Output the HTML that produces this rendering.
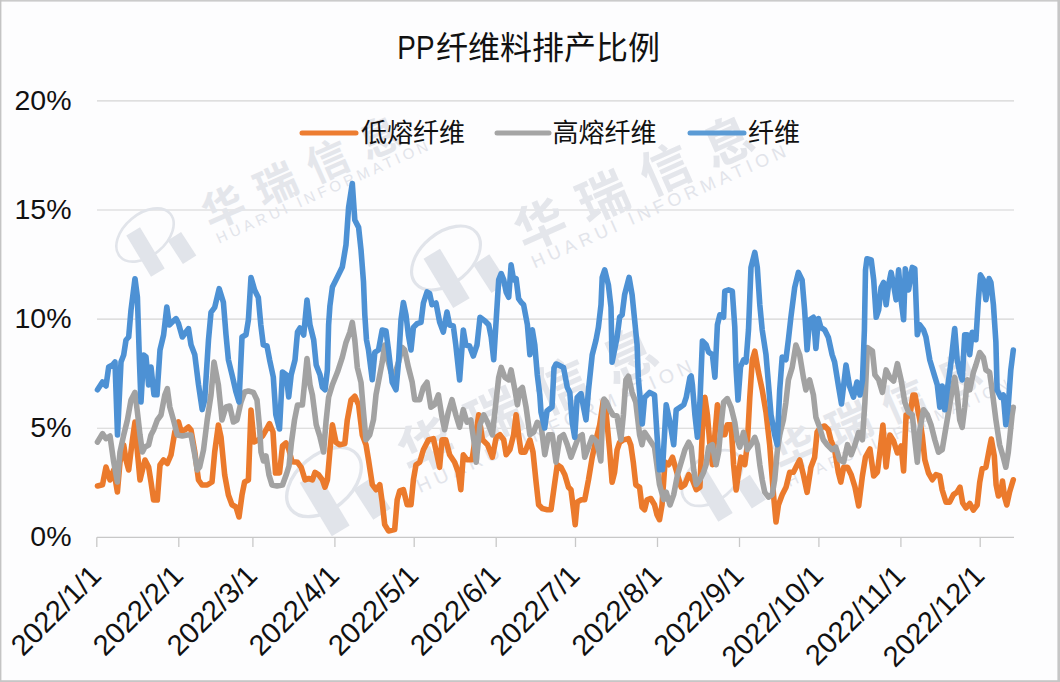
<!DOCTYPE html>
<html><head><meta charset="utf-8"><title>PP纤维料排产比例</title>
<style>
html,body{margin:0;padding:0;background:#fff;width:1060px;height:682px;overflow:hidden}
svg{display:block}
text{font-family:"Liberation Sans","Noto Sans CJK SC",sans-serif;fill:#111}
.ax{font-size:28.5px}
.xl{font-size:29px}
.title{font-size:32px}
.title2{font-size:32.4px}
.lg{font-size:26px}
.wm1{font-size:42px;font-weight:700;fill:#e4e6eb;letter-spacing:15px}
.wm2{font-size:15px;fill:#e2e4ea;letter-spacing:3.8px}
</style></head><body>
<svg width="1060" height="682" viewBox="0 0 1060 682">
<rect x="0" y="0" width="1060" height="682" fill="#fdfdfe"/>
<rect x="0" y="0" width="1060" height="1.6" fill="#cbcbcb"/>
<rect x="0" y="0" width="1.4" height="682" fill="#c4c4c4"/>
<rect x="1057.4" y="0" width="2.6" height="682" fill="#c6c6c6"/>
<rect x="0" y="680.2" width="1060" height="1.8" fill="#c6c6c6"/>
<line x1="97" y1="428.2" x2="1014" y2="428.2" stroke="#d4d4d4" stroke-width="1.1"/>
<line x1="97" y1="319.1" x2="1014" y2="319.1" stroke="#d4d4d4" stroke-width="1.1"/>
<line x1="97" y1="210.0" x2="1014" y2="210.0" stroke="#d4d4d4" stroke-width="1.1"/>
<line x1="97" y1="100.9" x2="1014" y2="100.9" stroke="#d4d4d4" stroke-width="1.1"/>

<g transform="translate(145,235) scale(1.0)" fill="#e1e4ea" stroke="none"><ellipse cx="0" cy="0" rx="33" ry="21" transform="rotate(-40)" fill="none" stroke="#e1e4ea" stroke-width="2.6"/><rect x="-24" y="-8" width="48" height="16" transform="translate(0.5,17) rotate(59)"/><rect x="-14" y="-8" width="28" height="16" transform="translate(37,13) rotate(57)"/><g transform="rotate(-24)"><text x="62" y="22" class="wm1">华瑞信息</text><text x="64" y="38" class="wm2">HUARUI INFORMATION</text></g></g><g transform="translate(446,258) scale(1.2)" fill="#e1e4ea" stroke="none"><ellipse cx="0" cy="0" rx="33" ry="21" transform="rotate(-40)" fill="none" stroke="#e1e4ea" stroke-width="2.6"/><rect x="-24" y="-8" width="48" height="16" transform="translate(0.5,17) rotate(59)"/><rect x="-14" y="-8" width="28" height="16" transform="translate(37,13) rotate(57)"/><g transform="rotate(-24)"><text x="62" y="22" class="wm1">华瑞信息</text><text x="64" y="38" class="wm2">HUARUI INFORMATION</text></g></g><g transform="translate(324,482) scale(1.3)" fill="#e1e4ea" stroke="none"><ellipse cx="0" cy="0" rx="33" ry="21" transform="rotate(-40)" fill="none" stroke="#e1e4ea" stroke-width="2.6"/><rect x="-24" y="-8" width="48" height="16" transform="translate(0.5,17) rotate(59)"/><rect x="-14" y="-8" width="28" height="16" transform="translate(37,13) rotate(57)"/><g transform="rotate(-24)"><text x="62" y="22" class="wm1">华瑞信息</text><text x="64" y="38" class="wm2">HUARUI INFORMATION</text></g></g><g transform="translate(712,478) scale(1.05)" fill="#e1e4ea" stroke="none"><ellipse cx="0" cy="0" rx="33" ry="21" transform="rotate(-40)" fill="none" stroke="#e1e4ea" stroke-width="2.6"/><rect x="-24" y="-8" width="48" height="16" transform="translate(0.5,17) rotate(59)"/><rect x="-14" y="-8" width="28" height="16" transform="translate(37,13) rotate(57)"/><g transform="rotate(-24)"><text x="62" y="22" class="wm1">华瑞信息</text><text x="64" y="38" class="wm2">HUARUI INFORMATION</text></g></g>
<line x1="97" y1="537.3" x2="1014" y2="537.3" stroke="#c8c8c8" stroke-width="1.3"/>
<line x1="96.8" y1="537.3" x2="96.8" y2="547" stroke="#c8c8c8" stroke-width="1.3"/>
<line x1="178.8" y1="537.3" x2="178.8" y2="547" stroke="#c8c8c8" stroke-width="1.3"/>
<line x1="252.9" y1="537.3" x2="252.9" y2="547" stroke="#c8c8c8" stroke-width="1.3"/>
<line x1="334.9" y1="537.3" x2="334.9" y2="547" stroke="#c8c8c8" stroke-width="1.3"/>
<line x1="414.2" y1="537.3" x2="414.2" y2="547" stroke="#c8c8c8" stroke-width="1.3"/>
<line x1="496.2" y1="537.3" x2="496.2" y2="547" stroke="#c8c8c8" stroke-width="1.3"/>
<line x1="575.5" y1="537.3" x2="575.5" y2="547" stroke="#c8c8c8" stroke-width="1.3"/>
<line x1="657.5" y1="537.3" x2="657.5" y2="547" stroke="#c8c8c8" stroke-width="1.3"/>
<line x1="739.5" y1="537.3" x2="739.5" y2="547" stroke="#c8c8c8" stroke-width="1.3"/>
<line x1="818.9" y1="537.3" x2="818.9" y2="547" stroke="#c8c8c8" stroke-width="1.3"/>
<line x1="900.9" y1="537.3" x2="900.9" y2="547" stroke="#c8c8c8" stroke-width="1.3"/>
<line x1="980.2" y1="537.3" x2="980.2" y2="547" stroke="#c8c8c8" stroke-width="1.3"/>

<g fill="none" stroke-width="5.6" stroke-linejoin="round" stroke-linecap="round">
<polyline stroke="#eb7a2c" points="97.5,486.0 102.5,484.7 106.0,467.0 110.0,480.0 113.7,470.0 117.4,492.0 120.0,462.0 123.7,445.0 126.0,460.0 128.7,470.0 132.4,440.0 135.0,422.0 137.4,452.0 140.0,480.0 142.4,470.0 145.0,460.0 148.6,467.0 151.0,482.0 153.6,500.0 157.3,500.0 160.0,465.0 163.6,460.0 167.3,463.5 171.0,455.0 174.8,432.0 178.5,422.0 181.0,431.0 184.8,430.0 188.5,427.0 191.0,430.0 194.8,452.0 198.5,480.0 202.0,485.0 207.2,485.0 212.0,482.0 214.7,452.0 218.4,425.0 221.0,437.0 224.7,475.0 228.4,495.0 232.0,504.7 236.0,507.0 239.0,517.0 242.0,495.0 244.6,482.0 248.4,480.0 251.0,410.0 254.0,442.0 258.3,440.0 262.5,436.0 266.0,430.0 269.5,423.6 273.0,432.0 275.5,473.0 279.5,473.0 282.5,446.0 286.0,443.0 289.0,450.0 292.0,461.6 297.5,462.3 301.2,467.3 305.0,479.8 308.7,478.5 312.4,479.8 315.0,472.3 318.7,474.8 322.4,479.8 325.0,487.2 327.4,479.8 330.0,449.8 332.4,424.9 336.0,442.3 339.8,444.8 344.8,443.6 347.3,419.9 351.0,400.0 354.8,396.2 358.6,405.0 362.3,434.9 366.0,444.8 368.5,459.8 372.3,484.7 376.0,489.7 379.8,484.7 382.2,502.2 384.7,524.6 388.5,530.9 394.7,529.6 397.2,499.7 399.7,491.0 403.4,489.7 407.2,504.7 411.0,504.7 413.4,479.8 416.0,464.8 419.7,462.3 423.4,449.8 428.4,439.9 433.4,438.6 437.0,454.8 439.6,467.3 442.0,439.9 445.8,439.9 449.6,454.8 454.6,462.3 458.3,472.3 460.8,489.7 463.3,454.8 467.0,459.8 472.0,459.8 475.0,439.8 478.7,414.8 482.5,439.8 487.5,444.7 492.4,457.2 496.2,437.3 499.9,434.8 503.7,439.8 506.2,454.7 509.9,449.7 513.6,434.8 516.1,414.8 518.6,434.8 521.1,452.2 524.9,452.2 529.9,439.8 533.0,452.0 536.1,482.3 538.6,504.7 542.3,508.5 547.3,509.7 551.0,509.7 554.8,482.3 557.3,464.8 561.0,467.3 564.8,474.8 568.5,487.3 571.0,489.8 573.5,509.7 575.2,524.7 577.2,502.2 581.0,499.8 584.7,499.8 588.5,479.8 592.2,457.4 595.9,439.9 599.7,425.0 603.3,401.0 606.0,412.0 609.6,449.9 612.1,482.3 614.6,472.3 617.1,449.9 619.6,442.4 623.4,439.9 628.4,438.7 630.8,444.9 633.3,462.3 635.8,484.8 639.6,487.3 642.0,507.2 644.6,509.7 647.0,499.8 650.8,498.5 654.5,504.7 657.0,514.7 659.5,519.7 662.0,505.0 665.0,462.0 668.7,464.7 672.5,457.2 677.5,474.7 681.2,487.1 684.9,484.6 688.7,474.7 692.4,479.7 696.2,489.6 699.9,487.1 702.4,429.8 704.9,397.4 707.4,414.8 709.9,444.7 712.4,464.7 714.9,434.8 717.4,404.8 719.9,412.3 722.3,434.8 724.8,434.8 727.3,424.8 731.1,424.8 733.6,464.7 736.1,490.0 738.6,472.2 741.0,457.2 744.8,464.7 747.3,444.7 749.8,397.4 752.3,360.0 754.8,351.2 758.5,372.4 762.2,389.9 766.0,412.3 769.7,445.0 773.5,494.8 776.0,522.0 778.5,504.7 782.2,494.8 786.0,487.3 789.7,472.3 793.4,472.3 797.2,464.8 799.7,459.9 803.4,474.8 807.1,492.3 810.9,467.3 814.6,457.4 817.1,432.0 820.8,427.3 824.6,426.0 828.3,429.8 830.8,439.8 834.6,449.7 838.3,472.2 840.8,482.1 843.7,467.2 847.5,467.2 851.2,474.7 855.0,487.1 858.7,506.0 862.4,476.0 865.5,457.0 869.9,449.0 873.7,476.0 877.4,472.0 879.9,452.0 882.9,425.0 886.1,467.0 889.9,435.0 893.6,441.0 897.4,453.0 901.1,446.0 903.6,471.0 906.1,415.0 909.8,416.0 913.0,395.0 915.0,395.0 917.3,407.3 919.8,419.8 922.3,436.0 924.8,459.7 928.5,473.0 932.3,479.7 936.0,474.7 939.8,476.0 942.2,490.0 946.0,502.1 949.7,502.1 953.5,494.6 957.2,492.0 960.0,487.1 962.7,503.0 966.0,508.0 969.7,503.5 973.4,510.0 977.2,505.0 979.7,482.3 982.2,468.6 985.9,467.3 989.6,447.4 991.3,439.0 994.3,456.0 996.1,484.6 998.4,496.0 1000.8,493.0 1002.5,481.0 1004.6,497.3 1006.8,505.0 1009.6,492.0 1013.3,479.8"/>
<polyline stroke="#a2a2a2" points="97.5,442.0 102.5,433.6 106.0,438.6 110.0,436.0 113.7,462.0 117.4,482.0 120.0,452.0 123.7,435.0 127.4,420.0 131.0,400.0 135.0,392.4 137.4,412.0 140.0,435.0 142.4,452.0 145.0,447.0 148.6,445.0 151.0,435.0 153.6,430.0 157.3,420.0 161.0,415.0 164.8,395.0 167.3,388.7 169.8,407.0 173.5,420.0 177.3,435.0 182.3,436.0 187.3,435.0 191.0,435.0 194.8,455.0 197.2,470.0 199.7,467.0 203.5,450.0 207.2,420.0 211.0,395.0 214.0,362.0 218.4,385.0 222.0,420.0 226.0,407.0 229.7,406.0 233.4,422.0 237.0,420.0 241.0,402.0 244.6,392.0 248.4,391.0 253.4,392.4 257.0,400.0 259.6,428.0 261.0,452.0 263.5,461.0 266.0,456.0 269.0,475.0 272.0,485.0 277.0,486.0 282.5,485.0 286.5,474.0 289.0,466.0 291.5,442.0 294.5,420.0 297.5,405.0 302.4,405.0 307.0,358.6 310.0,384.8 312.4,394.8 316.2,424.7 320.0,437.0 323.6,452.0 326.0,422.0 328.6,397.3 332.4,384.8 337.4,372.3 342.3,357.4 346.0,342.4 349.8,332.4 352.3,322.4 354.8,340.0 357.3,367.3 361.0,382.3 363.5,412.2 366.0,439.7 369.8,434.7 373.5,419.7 376.0,394.8 379.8,374.8 382.2,362.3 384.7,345.0 387.2,357.4 391.0,372.3 394.7,374.8 398.5,362.3 402.2,347.4 404.7,350.0 408.4,367.3 412.2,382.3 414.7,399.7 419.7,399.7 423.4,387.3 427.0,382.3 430.9,407.2 434.6,404.7 438.4,394.8 442.0,417.2 444.6,429.7 448.3,412.2 452.0,399.7 455.8,414.7 459.6,427.2 463.3,409.7 467.0,422.2 470.8,420.0 474.5,445.0 476.2,462.2 480.0,424.8 483.7,414.8 487.5,422.3 492.4,434.8 496.2,399.9 498.7,377.4 501.2,367.4 504.9,377.4 508.7,379.9 511.1,369.9 514.9,389.9 517.4,404.8 519.9,389.9 522.4,387.4 526.1,407.3 529.9,434.8 533.6,432.3 537.3,422.3 541.0,424.8 544.8,454.7 548.6,434.8 552.3,434.8 556.0,462.2 559.8,437.3 563.5,434.8 567.3,444.7 571.0,457.2 574.7,447.2 578.5,437.3 582.2,434.8 584.7,457.2 588.5,447.2 592.2,437.3 596.0,441.0 598.5,450.0 600.8,461.0 602.5,420.0 604.0,399.0 606.5,402.0 610.0,410.0 613.0,415.0 617.0,416.0 620.9,439.8 623.4,414.8 625.9,379.9 628.4,376.2 632.1,392.4 635.8,402.3 639.6,434.8 642.0,444.7 644.6,432.3 649.6,439.8 654.5,447.2 659.5,484.6 663.7,499.6 666.2,492.1 670.0,505.0 673.7,494.6 677.5,474.7 681.2,462.2 684.9,449.7 688.7,442.2 691.2,447.2 693.7,469.7 696.2,484.6 699.9,479.7 703.6,472.2 706.1,464.7 708.6,447.2 712.4,444.7 716.1,464.7 718.6,452.2 721.1,424.8 723.6,402.3 727.3,398.6 731.1,407.3 734.8,422.3 737.3,439.8 739.8,447.2 743.5,432.3 747.3,449.7 751.0,444.7 754.8,437.3 757.3,444.7 759.8,464.7 762.2,479.7 764.7,492.1 768.5,497.1 772.2,494.6 774.7,479.7 777.2,452.2 779.7,434.8 783.4,419.8 785.9,402.3 788.4,379.9 792.2,367.4 795.9,345.0 799.7,355.0 803.4,377.4 805.9,389.9 809.6,379.9 813.4,394.9 815.9,417.3 819.6,427.3 823.3,439.8 827.1,444.7 832.1,449.7 835.8,447.2 839.6,459.7 843.7,462.0 847.5,444.7 851.2,454.7 855.0,444.7 858.7,432.3 862.4,439.8 864.9,402.3 867.4,347.5 872.4,351.0 874.9,374.9 878.7,379.9 882.4,392.4 886.1,369.9 889.9,377.4 893.6,381.1 897.4,363.7 901.1,379.9 904.8,402.3 908.6,412.3 912.3,414.8 914.8,439.8 917.3,462.2 919.8,429.8 923.5,409.8 927.3,414.8 931.0,424.8 934.8,439.8 938.5,452.2 942.2,449.7 944.7,434.8 948.5,412.3 952.2,389.9 954.7,377.4 957.2,394.9 959.7,419.8 962.2,427.3 964.7,407.3 967.2,379.9 969.7,389.9 973.4,372.4 975.9,365.0 979.7,352.5 983.4,357.5 985.9,369.9 989.6,372.4 992.1,389.9 995.9,419.8 999.6,444.7 1003.3,457.2 1005.8,467.2 1008.3,452.2 1012.1,414.8 1013.3,407.3"/>
<polyline stroke="#4d91d4" points="97.5,389.7 102.5,382.0 106.0,386.0 108.7,367.0 112.5,365.0 115.0,362.0 117.5,435.0 121.0,362.0 123.7,355.0 126.0,340.0 128.7,337.0 131.0,310.0 135.0,278.7 137.4,297.0 139.4,360.0 141.0,402.0 143.6,355.0 146.0,357.0 148.6,385.0 151.0,367.0 154.0,394.7 157.0,394.7 160.0,350.0 163.6,335.0 166.8,307.0 169.3,325.0 172.3,322.0 176.0,318.6 178.5,323.6 182.3,337.0 186.0,332.0 188.5,328.6 191.0,344.8 194.8,354.8 198.5,384.7 202.2,409.6 204.7,399.7 208.5,339.8 211.0,312.4 214.7,307.4 219.2,288.7 223.4,302.4 226.0,334.8 228.4,359.8 232.0,374.7 236.0,392.0 239.0,402.0 242.0,337.0 246.0,334.8 248.4,319.9 251.0,277.5 254.6,290.0 258.3,297.4 260.8,324.8 263.3,344.8 267.0,346.0 269.6,359.8 273.3,377.0 275.8,414.6 279.5,429.0 282.5,372.0 286.2,374.8 288.7,397.0 291.2,374.8 295.0,360.0 297.5,332.0 300.0,328.0 303.7,335.0 307.0,300.0 310.0,325.0 313.7,340.0 316.2,365.0 320.0,374.8 322.4,387.3 325.0,389.8 327.4,369.8 328.6,325.0 329.9,306.0 332.4,287.0 337.4,277.0 342.3,267.0 346.0,244.8 348.6,207.4 352.3,183.5 354.8,220.0 358.6,227.4 361.0,249.8 363.5,282.0 364.8,314.6 366.5,340.0 368.5,350.0 372.3,379.8 374.8,352.4 378.5,350.0 382.2,330.0 386.0,331.0 388.5,350.0 392.2,382.3 396.0,389.8 398.5,362.3 401.0,320.0 403.4,302.5 406.0,315.0 408.4,335.0 411.0,350.0 413.4,327.4 417.0,323.7 421.0,322.4 423.4,303.0 427.0,292.0 429.6,293.4 432.0,304.7 436.0,303.0 439.6,322.0 443.3,332.0 447.0,312.0 449.6,325.0 453.3,326.0 455.8,345.0 459.6,380.0 463.3,330.0 465.8,345.0 469.5,346.0 473.3,356.0 477.0,345.0 480.0,317.3 485.0,321.0 488.7,324.8 491.2,337.2 493.7,359.7 496.2,319.8 498.7,279.9 501.2,273.6 503.7,279.9 506.2,292.3 508.7,297.3 511.1,264.9 513.6,279.9 516.1,278.6 518.6,298.6 521.1,302.3 523.6,304.8 527.4,324.8 529.9,354.7 532.3,329.8 534.8,345.0 537.3,375.0 539.8,395.0 541.0,412.0 544.7,428.0 547.0,411.0 552.0,407.0 554.0,368.0 556.0,364.0 558.5,364.9 563.5,367.4 567.3,387.4 569.8,392.4 572.2,422.3 574.7,437.3 577.2,397.4 581.0,393.6 583.5,407.3 586.0,419.8 588.5,389.9 592.2,355.0 596.0,340.0 598.4,327.3 601.0,304.8 602.2,277.4 604.7,269.9 608.4,284.9 611.0,307.3 612.1,362.2 614.6,349.7 617.1,337.2 619.6,317.3 622.1,314.8 624.6,294.8 629.1,277.4 632.1,294.8 634.6,319.8 637.1,345.0 638.3,377.4 642.3,424.0 644.6,397.4 649.6,392.4 654.5,394.9 657.0,434.8 659.5,469.7 662.5,469.7 666.2,404.8 670.0,422.3 673.7,444.7 676.2,409.8 680.0,407.3 683.7,404.8 686.2,397.4 689.9,377.4 691.2,376.0 692.4,384.9 694.9,414.8 697.4,437.3 699.9,402.3 702.4,341.0 706.1,344.7 708.6,352.2 712.4,354.7 714.9,377.1 717.4,324.8 719.9,314.8 723.6,317.3 724.8,291.1 728.6,289.9 732.3,291.1 734.8,327.3 736.0,367.0 738.0,400.0 740.5,367.0 743.5,360.0 746.0,362.0 748.5,329.8 751.0,267.4 754.8,252.4 757.3,267.4 759.8,304.8 762.2,329.8 766.0,354.7 768.5,384.6 771.0,414.8 774.7,434.8 777.2,444.7 779.7,389.9 782.2,357.0 785.9,359.7 788.4,339.7 790.9,317.3 794.7,287.4 798.4,272.4 802.1,279.9 804.6,309.8 807.1,349.7 809.6,319.8 813.4,317.3 815.9,348.5 818.4,318.5 820.8,327.3 824.6,329.8 828.3,337.2 832.1,354.7 834.6,362.0 838.3,385.0 841.5,404.0 846.0,365.0 849.5,386.0 853.5,397.0 857.0,382.0 860.0,395.0 862.5,380.0 864.4,330.0 865.5,270.0 867.0,258.7 871.2,259.9 873.7,279.9 876.2,317.3 878.7,309.8 881.1,287.4 883.6,282.4 886.1,304.8 888.6,284.9 891.1,272.4 893.6,284.9 896.1,299.8 898.6,269.9 901.1,299.8 903.6,319.8 905.3,268.7 908.6,289.9 912.3,267.4 914.8,268.7 917.3,334.7 919.8,324.8 923.5,329.8 926.0,337.2 929.8,360.0 933.5,372.4 937.3,384.9 939.8,407.3 942.2,386.1 944.7,409.8 947.2,389.9 949.7,372.4 951.0,362.2 954.7,328.5 957.2,360.0 959.7,372.4 962.2,379.9 964.7,334.7 967.2,334.7 969.7,354.7 972.2,332.2 975.9,339.7 978.4,299.8 980.4,274.9 983.4,279.9 985.9,299.8 989.1,278.6 990.9,282.4 993.4,304.8 995.9,342.2 997.1,389.9 1000.8,397.4 1003.3,394.9 1005.8,424.8 1008.3,404.8 1010.8,370.0 1013.3,350.0"/>
</g>
<text x="71.5" y="545.9" text-anchor="end" class="ax">0%</text>
<text x="71.5" y="436.8" text-anchor="end" class="ax">5%</text>
<text x="71.5" y="327.7" text-anchor="end" class="ax">10%</text>
<text x="71.5" y="218.6" text-anchor="end" class="ax">15%</text>
<text x="71.5" y="109.5" text-anchor="end" class="ax">20%</text>

<text transform="translate(102.8,577.3) rotate(-45)" text-anchor="end" class="xl">2022/1/1</text>
<text transform="translate(184.8,577.3) rotate(-45)" text-anchor="end" class="xl">2022/2/1</text>
<text transform="translate(258.9,577.3) rotate(-45)" text-anchor="end" class="xl">2022/3/1</text>
<text transform="translate(340.9,577.3) rotate(-45)" text-anchor="end" class="xl">2022/4/1</text>
<text transform="translate(420.2,577.3) rotate(-45)" text-anchor="end" class="xl">2022/5/1</text>
<text transform="translate(502.2,577.3) rotate(-45)" text-anchor="end" class="xl">2022/6/1</text>
<text transform="translate(581.5,577.3) rotate(-45)" text-anchor="end" class="xl">2022/7/1</text>
<text transform="translate(663.5,577.3) rotate(-45)" text-anchor="end" class="xl">2022/8/1</text>
<text transform="translate(745.5,577.3) rotate(-45)" text-anchor="end" class="xl">2022/9/1</text>
<text transform="translate(824.9,577.3) rotate(-45)" text-anchor="end" class="xl">2022/10/1</text>
<text transform="translate(906.9,577.3) rotate(-45)" text-anchor="end" class="xl">2022/11/1</text>
<text transform="translate(986.2,577.3) rotate(-45)" text-anchor="end" class="xl">2022/12/1</text>

<text transform="translate(397.3,59.4) scale(0.86,1)" class="title2">PP</text><text x="436" y="59" class="title">纤维料排产比例</text>
<g stroke-width="5" stroke-linecap="round">
<line x1="302" y1="133" x2="356" y2="133" stroke="#ed7d31"/>
<line x1="497" y1="133" x2="549" y2="133" stroke="#a5a5a5"/>
<line x1="690" y1="133" x2="744" y2="133" stroke="#5b9bd5"/>
</g>
<text x="361" y="142" class="lg">低熔纤维</text>
<text x="552.5" y="142" class="lg">高熔纤维</text>
<text x="748" y="142" class="lg">纤维</text>
</svg>
</body></html>
